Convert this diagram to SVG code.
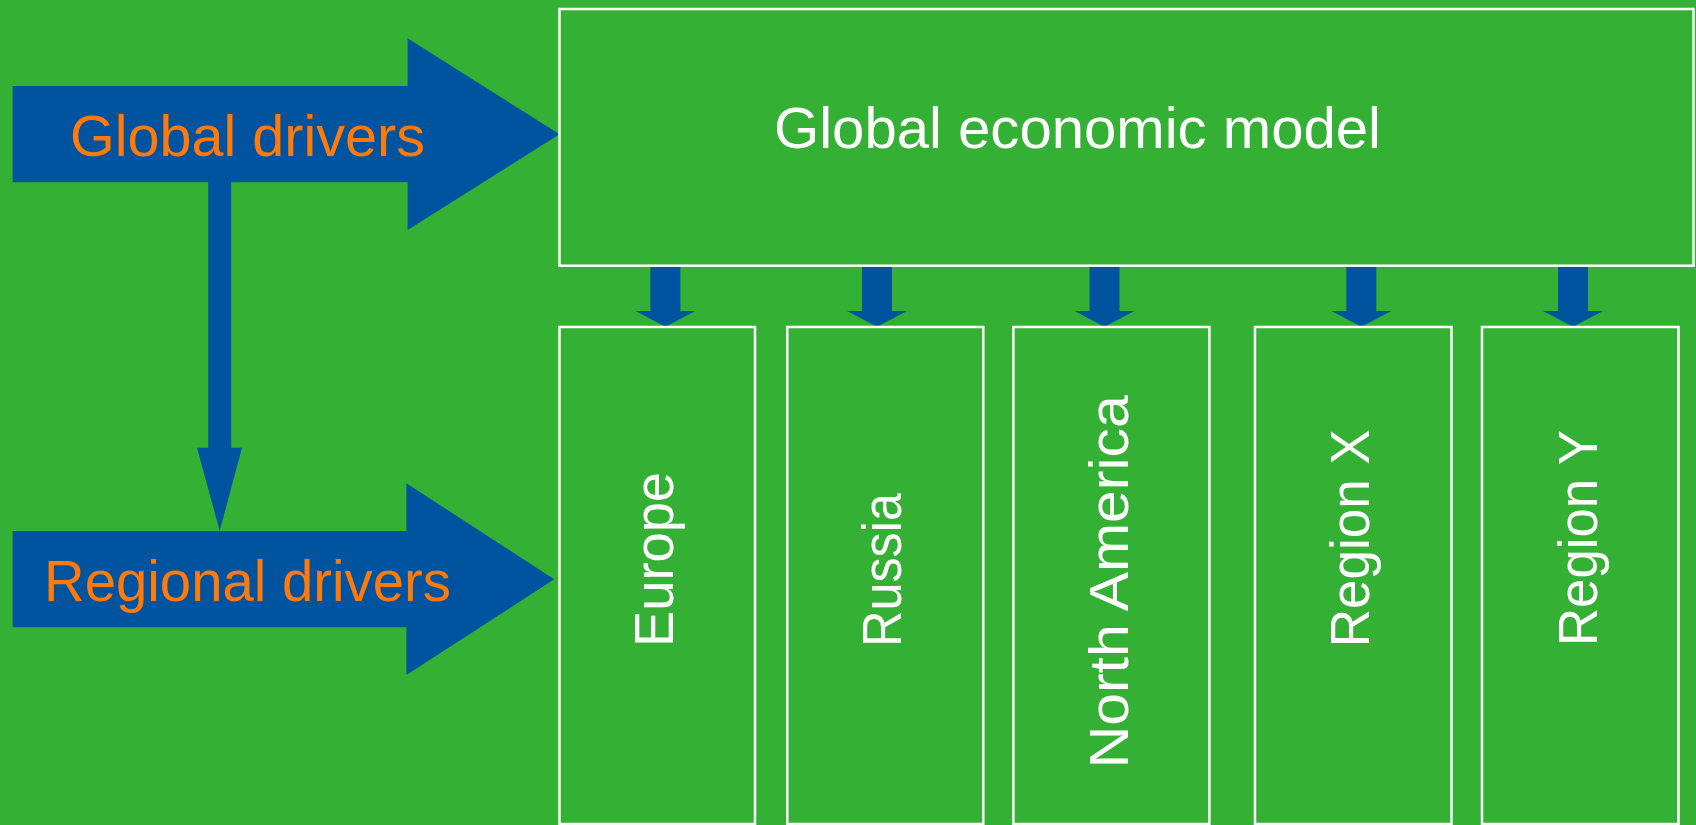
<svg xmlns="http://www.w3.org/2000/svg" width="1696" height="825" viewBox="0 0 1696 825">
<style>
.box{fill:none;stroke:#ffffff;stroke-width:2.5}
.arr{fill:#00549F}
.lbl{font-family:"Liberation Sans",Arial,sans-serif;fill:#ffffff}
.drv{font-family:"Liberation Sans",Arial,sans-serif;fill:#FF7A0A;font-size:58px}
.vt{font-size:55px}
</style>
<rect x="0" y="0" width="1696" height="825" fill="#34B034"/>
<g id="connectors">
<polygon class="arr" points="208.2,182 231.2,182 231.2,447.7 242,447.7 219.7,531 197,447.7 208.2,447.7"/>
<polygon class="arr" points="650.4,265.7 680.4,265.7 680.4,311 695.4,311 665.4,326.7 635.4,311 650.4,311"/>
<polygon class="arr" points="862,265.7 892,265.7 892,311 907,311 877,326.7 847,311 862,311"/>
<polygon class="arr" points="1089.5,265.7 1119.5,265.7 1119.5,311 1134.5,311 1104.5,326.7 1074.5,311 1089.5,311"/>
<polygon class="arr" points="1346.3,265.7 1376.3,265.7 1376.3,311 1391.3,311 1361.3,326.7 1331.3,311 1346.3,311"/>
<polygon class="arr" points="1558,265.7 1588,265.7 1588,311 1603,311 1573,326.7 1543,311 1558,311"/>
</g>
<g id="global-drivers">
<polygon class="arr" points="12.6,86 407.6,86 407.6,38.3 559.5,134.3 407.6,230 407.6,182.3 12.6,182.3"/>
<text class="drv" x="70" y="155.7" textLength="355" lengthAdjust="spacingAndGlyphs">Global drivers</text>
</g>
<g id="regional-drivers">
<polygon class="arr" points="12.6,531 406.4,531 406.4,483.3 554.2,579.3 406.4,675 406.4,627.3 12.6,627.3"/>
<text class="drv" x="44" y="600.7" textLength="407" lengthAdjust="spacingAndGlyphs">Regional drivers</text>
</g>
<g id="global-economic-model">
<rect class="box" x="559.5" y="9" width="1134" height="256.7"/>
<text class="lbl" x="774" y="148.3" font-size="58" textLength="607" lengthAdjust="spacingAndGlyphs">Global economic model</text>
</g>
<g id="europe">
<rect class="box" x="559.5" y="327" width="195.5" height="497"/>
<text class="lbl vt" transform="translate(672.7,647) rotate(-90)" x="0" y="0" textLength="175" lengthAdjust="spacingAndGlyphs">Europe</text>
</g>
<g id="russia">
<rect class="box" x="787.3" y="327" width="196" height="497"/>
<text class="lbl vt" transform="translate(901,647) rotate(-90)" x="0" y="0" textLength="154" lengthAdjust="spacingAndGlyphs">Russia</text>
</g>
<g id="north-america">
<rect class="box" x="1013.4" y="327" width="196" height="497"/>
<text class="lbl vt" transform="translate(1128.3,768.3) rotate(-90)" x="0" y="0" textLength="373" lengthAdjust="spacingAndGlyphs">North America</text>
</g>
<g id="region-x">
<rect class="box" x="1255" y="327" width="196.5" height="497"/>
<text class="lbl vt" transform="translate(1369.3,647.3) rotate(-90)" x="0" y="0" textLength="218" lengthAdjust="spacingAndGlyphs">Region X</text>
</g>
<g id="region-y">
<rect class="box" x="1482" y="327" width="196.5" height="497"/>
<text class="lbl vt" transform="translate(1596.7,646) rotate(-90)" x="0" y="0" textLength="216" lengthAdjust="spacingAndGlyphs">Region Y</text>
</g>
</svg>
